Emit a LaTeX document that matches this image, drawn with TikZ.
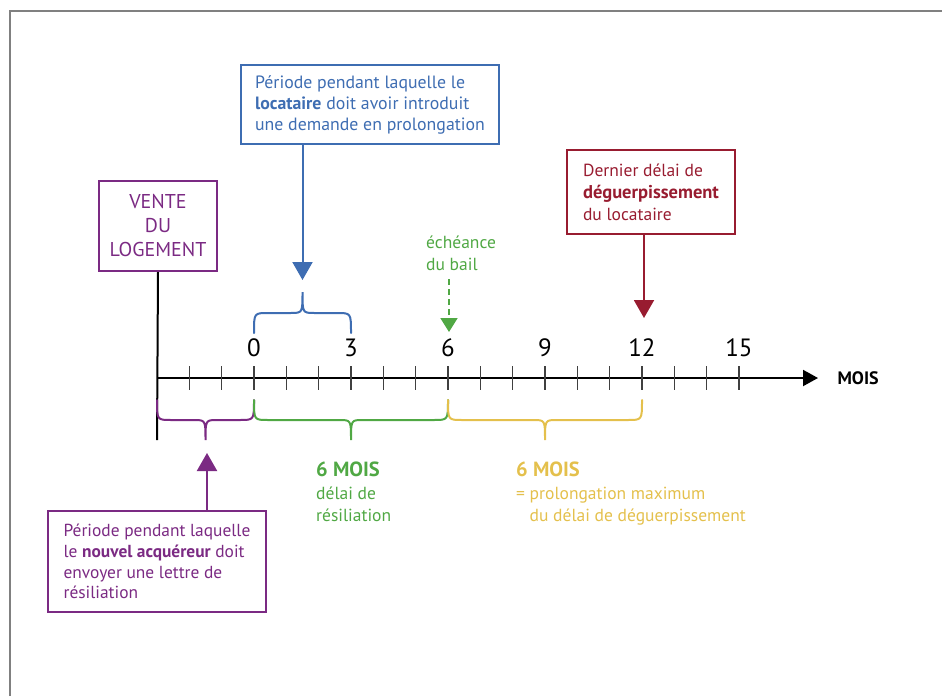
\documentclass[tikz,border=0pt]{standalone}
\usepackage{fontspec}
\setmainfont{PT Sans}
\usetikzlibrary{positioning, arrows.meta}

\definecolor{tlBlue}{RGB}{62,109,178}
\definecolor{tlPurple}{RGB}{123,42,131}
\definecolor{tlRed}{RGB}{152,28,48}
\definecolor{tlGreen}{RGB}{80,168,68}
\definecolor{tlYellow}{RGB}{228,192,76}

\begin{document}
\begin{tikzpicture}[
    x=1pt, y=-1pt,
    >={Triangle[length=18pt, width=20pt]},
    every node/.style = {font=\fontsize{17.5}{21}\selectfont},
    infobox/.style    = {rectangle, draw, line width=2pt, align=left,
                         inner sep=0pt, anchor=north west},
    note/.style       = {align=left, anchor=north west, inner sep=0pt},
    brace/.style      = {line width=2pt, line cap=round},
    tickmark/.style   = {line width=1.3pt, black!75},
    num/.style        = {font=\fontsize{25}{25}\selectfont},
    pointer/.style    = {->, line width=2pt}
]
\useasboundingbox (0,0) rectangle (942,696);

% Frame
\draw[gray, line width=1.2pt] (10,696) -- (10,11) -- (942,11);

% Boxes
\node[infobox, draw=tlBlue, text=tlBlue, minimum width=258pt, minimum height=79pt,
      font=\fontsize{17.8}{21}\selectfont] (locbox) at (240,64)
  {Période pendant laquelle le\\ \textbf{locataire} doit avoir introduit\\ une demande en prolongation};
\node[infobox, draw=tlRed, text=tlRed, minimum width=168pt, minimum height=84pt,
      font=\fontsize{17.5}{22}\selectfont] (finbox) at (566,149)
  {Dernier délai de\\ \textbf{\fontsize{18.5}{22}\selectfont déguerpissement}\\ du locataire};
\node[infobox, align=center, draw=tlPurple, text=tlPurple, minimum width=118pt,
      minimum height=90pt, font=\fontsize{20}{24}\selectfont] (vente) at (98,180)
  {VENTE\\DU\\LOGEMENT};
\node[infobox, draw=tlPurple, text=tlPurple, minimum width=218pt, minimum height=101pt,
      font=\fontsize{17.4}{20.7}\selectfont] (acqbox) at (47,510)
  {Période pendant laquelle\\ le \textbf{nouvel acquéreur} doit\\ envoyer une lettre de\\ résiliation};

% Time axis
\coordinate (origin)  at (157,378);
\coordinate (axisEnd) at (818,378);
\draw[line width=2pt, -{Triangle[length=15pt, width=16pt]}] (origin) -- (axisEnd);
\node[anchor=west, font=\bfseries\fontsize{18}{18}\selectfont] (mois) at (834,378) {MOIS};
\foreach \m in {-2,...,15}
  \draw[tickmark] (254+32.33*\m, 366) -- ++(0,24);
\foreach \m in {0,3,...,15}
  \node[num] (n\m) at (254+32.33*\m, 348) {\m};

% Sale marker
\coordinate (venteEnd) at (157,440);
\draw[line width=2pt] (vente.south) -- (venteEnd);

% Braces below the axis
\foreach \xa/\xb/\col in {157/254/tlPurple, 254/448/tlGreen, 448/642/tlYellow} {
  \pgfmathsetmacro\xc{(\xa+\xb)/2}
  \draw[brace, \col] (\xa,400) .. controls (\xa,420) .. (\xa+14,420)
    -- (\xc-12,420) .. controls (\xc,420) .. (\xc,440)
    .. controls (\xc,420) .. (\xc+12,420) -- (\xb-14,420)
    .. controls (\xb,420) .. (\xb,400);
}

% Brace above 0-3
\draw[brace, tlBlue] (254,333) .. controls (254,313) .. (268,313)
  -- (290.5,313) .. controls (302.5,313) .. (302.5,292)
  .. controls (302.5,313) .. (314.5,313) -- (337,313)
  .. controls (351,313) .. (351,333);

% Pointers
\coordinate (locTip) at (302.5,292);
\draw[pointer, tlBlue, shorten >=12pt] (locbox.south -| locTip) -- (locTip);
\coordinate (finTip) at (644,318);
\draw[pointer, tlRed] (finbox.south -| finTip) -- (finTip);
\coordinate (acqTip) at (207,453);
\draw[pointer, tlPurple] (acqbox.north -| acqTip) -- (acqTip);

% End of lease
\node[note, text=tlGreen, font=\fontsize{17.5}{22}\selectfont] (bail) at (426,236)
  {échéance\\du bail};
\coordinate (bailTip) at (449,332);
\draw[tlGreen, line width=1.8pt, dash pattern=on 6pt off 4pt, shorten <=8pt,
      -{Triangle[length=14pt, width=17pt]}] (bail.south -| bailTip) -- (bailTip);

% Period notes
\node[note, text=tlGreen, font=\fontsize{17.5}{22.5}\selectfont] (resil) at (316,462)
  {\textbf{\fontsize{20.5}{22.5}\selectfont 6 MOIS}\\délai de\\résiliation};
\node[note, text=tlYellow, font=\fontsize{17.5}{22.5}\selectfont] (prolong) at (516,462)
  {\textbf{\fontsize{20.5}{22.5}\selectfont 6 MOIS}\\= prolongation maximum\\
   \hphantom{=\ }du délai de déguerpissement};

\end{tikzpicture}
\end{document}
